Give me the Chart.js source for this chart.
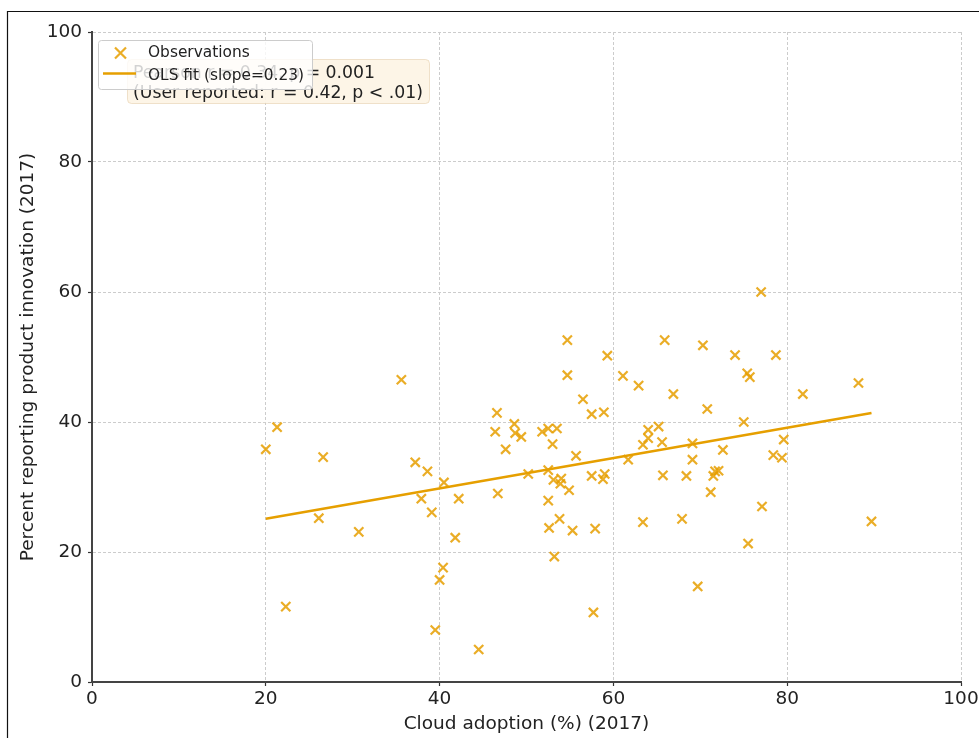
<!DOCTYPE html>
<html>
<head>
<meta charset="utf-8">
<script src="https://cdn.jsdelivr.net/npm/chart.js@4.4.1/dist/chart.umd.min.js"></script>
<style>
  body { margin: 0; background: #fff; }
  #wrap { position: relative; width: 979px; height: 738px; }
</style>
</head>
<body>
<div id="wrap"><canvas id="scatterChart"></canvas></div>
<script>
// values
let cloud_adoption = [
    20.0, 21.3, 22.3, 26.1, 26.6, 30.7, 35.6, 37.2, 37.9, 38.6,
    39.1, 39.5, 40.0, 40.4, 40.5, 41.8, 42.2, 44.5, 46.6, 46.4,
    46.7, 47.6, 48.6, 48.7, 49.4, 50.2, 51.8, 52.5, 53.5, 53.0,
    52.5, 52.5, 52.6, 53.1, 54.0, 53.9, 53.8, 53.2, 54.7, 54.7,
    54.9, 55.3, 55.7, 56.5, 57.5, 57.5, 57.9, 57.7, 58.9, 59.0,
    58.8, 59.3, 61.1, 61.7, 62.9, 63.4, 63.4, 64.0, 64.0, 65.2,
    65.6, 65.7, 65.9, 66.9, 67.9, 68.4, 69.1, 69.1, 69.7, 70.3,
    70.8, 71.2, 71.5, 71.7, 72.1, 72.6, 74.0, 75.0, 75.4, 75.7,
    75.5, 77.0, 77.1, 78.7, 78.4, 79.4, 79.6, 81.8, 88.2, 89.7
];
let product_innovation = [
    35.8, 39.2, 11.6, 25.2, 34.6, 23.1, 46.5, 33.8, 28.2, 32.4,
    26.1, 8.0, 15.7, 17.6, 30.7, 22.2, 28.2, 5.0, 41.4, 38.5,
    29.0, 35.8, 39.7, 38.3, 37.7, 32.0, 38.5, 39.0, 39.0, 36.6,
    32.6, 27.9, 23.7, 31.1, 31.3, 30.5, 25.1, 19.3, 52.6, 47.2,
    29.5, 23.3, 34.8, 43.5, 41.2, 31.7, 23.6, 10.7, 41.5, 32.0,
    31.2, 50.2, 47.1, 34.2, 45.6, 24.6, 36.5, 38.8, 37.5, 39.3,
    36.9, 31.8, 52.6, 44.3, 25.1, 31.7, 36.7, 34.2, 14.7, 51.8,
    42.0, 29.2, 31.7, 32.4, 32.5, 35.7, 50.3, 40.0, 47.5, 46.9,
    21.3, 60.0, 27.0, 50.3, 34.9, 34.5, 37.3, 44.3, 46.0, 24.7
];
let fit_x = [20.0, 89.7];
let fit_y = [25.1, 41.4];
let axis_ticks = [0, 20, 40, 60, 80, 100];

let legend_labels = ['Observations', 'OLS fit (slope=0.23)'];
let note_lines = ['Pearson r = 0.34, p = 0.001', '(User reported: r = 0.42, p < .01)'];

const marker_color = 'rgba(230, 159, 0, 0.85)';
const line_color = '#E69F00';
const font_family = "'DejaVu Sans', sans-serif";

function roundBox(ctx, x, y, w, h, r) {
    ctx.beginPath();
    ctx.moveTo(x + r, y);
    ctx.lineTo(x + w - r, y);
    ctx.quadraticCurveTo(x + w, y, x + w, y + r);
    ctx.lineTo(x + w, y + h - r);
    ctx.quadraticCurveTo(x + w, y + h, x + w - r, y + h);
    ctx.lineTo(x + r, y + h);
    ctx.quadraticCurveTo(x, y + h, x, y + h - r);
    ctx.lineTo(x, y + r);
    ctx.quadraticCurveTo(x, y, x + r, y);
    ctx.closePath();
}

/* Frame, note box and legend */
const extrasPlugin = {
    id: 'extras',
    beforeDraw(chart) {
        const ctx = chart.ctx;
        ctx.save();
        ctx.strokeStyle = '#111';
        ctx.lineWidth = 1.2;
        ctx.beginPath();
        ctx.moveTo(7.5, 738);
        ctx.lineTo(7.5, 11.5);
        ctx.lineTo(979, 11.5);
        ctx.stroke();
        ctx.restore();
    },
    afterDraw(chart) {
        const ctx = chart.ctx;
        ctx.save();

        // note box
        roundBox(ctx, 127.5, 59.5, 302, 44, 4);
        ctx.fillStyle = 'rgba(253, 244, 229, 0.92)';
        ctx.fill();
        ctx.strokeStyle = 'rgba(225, 200, 160, 0.5)';
        ctx.lineWidth = 1;
        ctx.stroke();
        ctx.fillStyle = '#222';
        ctx.font = '17.3px ' + font_family;
        ctx.textBaseline = 'alphabetic';
        ctx.textAlign = 'left';
        ctx.fillText(note_lines[0], 133, 78);
        ctx.fillText(note_lines[1], 133, 97.5);

        // legend
        roundBox(ctx, 98.5, 40.5, 214, 49, 3);
        ctx.fillStyle = 'rgba(255, 255, 255, 0.8)';
        ctx.fill();
        ctx.strokeStyle = '#cccccc';
        ctx.stroke();

        ctx.strokeStyle = marker_color;
        ctx.lineWidth = 2.2;
        ctx.beginPath();
        ctx.moveTo(115, 47.5);
        ctx.lineTo(126, 58.5);
        ctx.moveTo(126, 47.5);
        ctx.lineTo(115, 58.5);
        ctx.stroke();

        ctx.strokeStyle = line_color;
        ctx.lineWidth = 2.5;
        ctx.beginPath();
        ctx.moveTo(103, 73.5);
        ctx.lineTo(136, 73.5);
        ctx.stroke();

        ctx.fillStyle = '#222';
        ctx.font = '15.4px ' + font_family;
        ctx.fillText(legend_labels[0], 148, 57);
        ctx.fillText(legend_labels[1], 148, 79.5);
        ctx.restore();
    }
};

window.onload = function() {
    const points = cloud_adoption.map((v, i) => ({x: v, y: product_innovation[i]}));
    const fit = fit_x.map((v, i) => ({x: v, y: fit_y[i]}));

    const axisStyle = {
        type: 'linear',
        min: 0,
        max: 100,
        afterBuildTicks: function(scale) {
            scale.ticks = axis_ticks.map(v => ({value: v}));
        },
        grid: {
            color: '#cccccc',
            lineWidth: 1,
            tickLength: 4,
            tickColor: '#333',
            tickWidth: 1.2
        },
        border: {
            display: true,
            color: '#444',
            width: 2,
            dash: [3, 2]
        },
        ticks: {
            color: '#222',
            font: {family: font_family, size: 18.5}
        }
    };

    new Chart(document.getElementById('scatterChart'), {
        type: 'scatter',
        data: {
            datasets: [{
                    label: legend_labels[0],
                    data: points,
                    pointStyle: 'crossRot',
                    pointRadius: 6.5,
                    pointHoverRadius: 6.5,
                    borderWidth: 2.2,
                    borderColor: marker_color,
                    backgroundColor: marker_color
                },
                {
                    type: 'line',
                    label: legend_labels[1],
                    data: fit,
                    borderColor: line_color,
                    borderWidth: 2.5,
                    pointRadius: 0,
                    fill: false
                }
            ]
        },
        options: {
            responsive: true,
            maintainAspectRatio: false,
            animation: false,
            layout: {
                padding: {left: 0, top: 32, right: 18, bottom: 0}
            },
            plugins: {
                legend: {display: false},
                tooltip: {enabled: false}
            },
            scales: {
                x: Object.assign({}, axisStyle, {
                    position: 'bottom',
                    ticks: Object.assign({}, axisStyle.ticks, {padding: 2, maxRotation: 0}),
                    title: {
                        display: true,
                        text: 'Cloud adoption (%) (2017)',
                        color: '#222',
                        font: {family: font_family, size: 18.5},
                        padding: {top: 0, bottom: 3}
                    },
                    afterFit: function(scale) {
                        scale.height = 56;
                        scale.paddingRight = 0;
                    }
                }),
                y: Object.assign({}, axisStyle, {
                    position: 'left',
                    ticks: Object.assign({}, axisStyle.ticks, {padding: 6}),
                    title: {
                        display: true,
                        text: 'Percent reporting product innovation (2017)',
                        color: '#222',
                        font: {family: font_family, size: 18.5},
                        padding: {top: 17, bottom: 0}
                    },
                    afterFit: function(scale) { scale.width = 92; }
                })
            }
        },
        plugins: [extrasPlugin]
    });
}
</script>
</body>
</html>
